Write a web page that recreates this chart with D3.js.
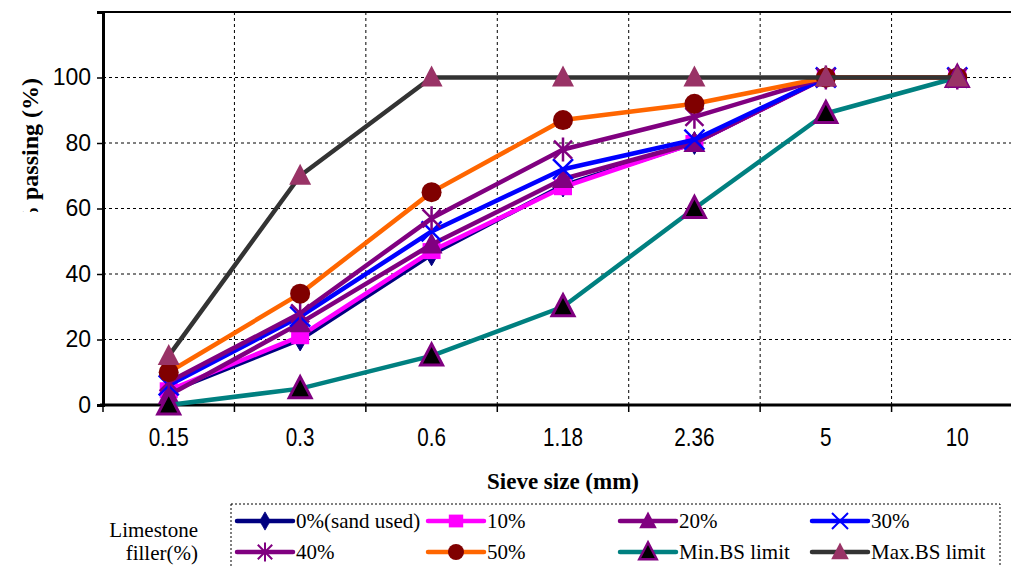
<!DOCTYPE html>
<html><head><meta charset="utf-8">
<script src="https://cdn.jsdelivr.net/npm/d3@7"></script>
<style>body{margin:0;background:#fff;}svg{display:block;}</style>
</head><body>
<svg id="c" width="1011" height="567"></svg>
<script>
const sieves = ["0.15","0.3","0.6","1.18","2.36","5","10"];
const yTicks = [0,20,40,60,80,100,120];
const s0  = [4,20,46,67,80,100,100];
const s10 = [4.5,21,47,66.5,80,100,100];
const s20 = [3,25,49,69,80,100,100];
const s30 = [6,27,53,72,81,100,100];
const s40 = [7,28,57,78,88,100,100];
const s50 = [10,34,65,87,92,100,100];
const sMin = [0,5,15,30,60,89,100];
const sMax = [15,70,100,100,100,100,100];
const seriesNames = ["0%(sand used)","10%","20%","30%","40%","50%","Min.BS limit","Max.BS limit"];

const series = [
  {name:seriesNames[0], v:s0,  line:"#000080", m:"diamond", fill:"#000080", stroke:"#000080"},
  {name:seriesNames[1], v:s10, line:"#FF00FF", m:"square",  fill:"#FF00FF", stroke:"#FF00FF"},
  {name:seriesNames[2], v:s20, line:"#800080", m:"triangle",fill:"#800080", stroke:"#800080"},
  {name:seriesNames[3], v:s30, line:"#0000FF", m:"x",       fill:"none",    stroke:"#0000FF"},
  {name:seriesNames[4], v:s40, line:"#800080", m:"star",    fill:"none",    stroke:"#800080"},
  {name:seriesNames[5], v:s50, line:"#FF6600", m:"circle",  fill:"#800000", stroke:"#800000"},
  {name:seriesNames[6], v:sMin,line:"#008080", m:"triangle",fill:"#000000", stroke:"#800080"},
  {name:seriesNames[7], v:sMax,line:"#333333", m:"triangle",fill:"#993366", stroke:"#993366"}
];

const svg = d3.select("#c");
const L = 103, R = 1023, T = 12, B = 405;
const x = d3.scaleBand().domain(sieves).range([L,R]);
const y = d3.scaleLinear().domain([0,120]).range([B,T]);
const sf = "'Liberation Sans', Arial, sans-serif";
const lf = "'Liberation Serif', 'Times New Roman', serif";

// grid
const g = svg.append("g");
g.selectAll(".hg").data(yTicks.filter(d=>d>0&&d<120)).enter().append("line")
  .attr("x1",L).attr("x2",R).attr("y1",d=>y(d)).attr("y2",d=>y(d))
  .attr("stroke","#000").attr("stroke-width",1).attr("stroke-dasharray","3,3");
g.selectAll(".vg").data(sieves.slice(1)).enter().append("line")
  .attr("x1",d=>x(d)).attr("x2",d=>x(d)).attr("y1",T).attr("y2",B)
  .attr("stroke","#000").attr("stroke-width",1).attr("stroke-dasharray","3,3");
svg.append("line").attr("x1",L).attr("x2",R).attr("y1",T).attr("y2",T).attr("stroke","#000").attr("stroke-width",2);

// y axis
const ya = svg.append("g").attr("transform",`translate(${L},0)`)
  .call(d3.axisLeft(y).tickValues(yTicks).tickSize(6).tickPadding(6).tickFormat(d=>d===120?"":d));
ya.select(".domain").attr("stroke-width",3);
ya.selectAll(".tick line").attr("stroke-width",1.5);
ya.selectAll("text").attr("font-family",sf).attr("font-size",23).attr("fill","#000");

// x axis
const xa = svg.append("g").attr("transform",`translate(0,${B})`)
  .call(d3.axisBottom(x).tickSize(0).tickPadding(0));
xa.select(".domain").remove();
xa.selectAll(".tick text").remove();
svg.append("line").attr("x1",L-3).attr("x2",R).attr("y1",B).attr("y2",B).attr("stroke","#000").attr("stroke-width",3);
svg.selectAll(".xt").data(sieves.concat(["end"])).enter().append("line")
  .attr("x1",(d,i)=>L+i*x.bandwidth()).attr("x2",(d,i)=>L+i*x.bandwidth())
  .attr("y1",B).attr("y2",B+7).attr("stroke","#000").attr("stroke-width",1.5);
svg.selectAll(".xl").data(sieves).enter().append("text")
  .attr("transform",d=>`translate(${x(d)+x.bandwidth()/2},446) scale(0.86,1.05)`)
  .attr("text-anchor","middle").attr("font-family",sf)
  .attr("font-size",24).text(d=>d);

// axis titles
svg.append("text").attr("x",563).attr("y",489).attr("text-anchor","middle")
  .attr("font-family",lf).attr("font-weight","bold")
  .attr("font-size",23).text("Sieve size (mm)");
svg.append("clipPath").attr("id","yc").append("rect").attr("x",0).attr("y",0).attr("width",100).attr("height",212);
svg.append("g").attr("clip-path","url(#yc)").append("text")
  .attr("transform","translate(38,78) rotate(-90)").attr("text-anchor","end")
  .attr("font-family",lf).attr("font-weight","bold")
  .attr("font-size",24).text("% passing (%)");

function marker(sel, type, fill, stroke){
  if(type==="diamond") sel.append("path").attr("d",d3.symbol(d3.symbolDiamond,150)()).attr("fill",fill).attr("stroke",stroke);
  else if(type==="square") sel.append("rect").attr("x",-9).attr("y",-8).attr("width",18).attr("height",16).attr("fill",fill);
  else if(type==="triangle") sel.append("path").attr("d","M0,-12L11,9L-11,9Z").attr("fill",fill).attr("stroke",stroke).attr("stroke-width",stroke===fill?0:3);
  else if(type==="circle") sel.append("circle").attr("r",10).attr("fill",fill);
  else if(type==="x") sel.append("path").attr("d","M-10,-10L10,10M-10,10L10,-10").attr("stroke",stroke).attr("stroke-width",2.5).attr("fill","none");
  else if(type==="star") sel.append("path").attr("d","M-9,-9L9,9M-9,9L9,-9M0,-12L0,12").attr("stroke",stroke).attr("stroke-width",2.5).attr("fill","none");
}

const line = d3.line().x((d,i)=>x(sieves[i])+x.bandwidth()/2).y(d=>y(d));
series.forEach(s=>{
  const sg = svg.append("g");
  sg.append("path").attr("d",line(s.v)).attr("fill","none").attr("stroke",s.line).attr("stroke-width",4.5).attr("stroke-linejoin","round");
  s.v.forEach((v,i)=>{
    const mg = sg.append("g").attr("transform",`translate(${x(sieves[i])+x.bandwidth()/2},${y(v)})`);
    marker(mg, s.m, s.fill, s.stroke);
  });
});

// legend
svg.append("rect").attr("x",231).attr("y",504).attr("width",769).attr("height",80)
  .attr("fill","none").attr("stroke","#000").attr("stroke-width",1).attr("stroke-dasharray","2,2");
const colX = [237,428,620,812], rowY = [521,552];
svg.append("text").attr("x",198).attr("y",537).attr("text-anchor","end").attr("font-family",lf).attr("font-size",21).text("Limestone");
svg.append("text").attr("x",198).attr("y",560).attr("text-anchor","end").attr("font-family",lf).attr("font-size",21).text("filler(%)");
series.forEach((s,i)=>{
  const cx = colX[i%4], cy = rowY[Math.floor(i/4)];
  const lg = svg.append("g");
  lg.append("line").attr("x1",cx).attr("x2",cx+56).attr("y1",cy).attr("y2",cy).attr("stroke",s.line).attr("stroke-width",4.5).attr("stroke-linecap","round");
  const mg = lg.append("g").attr("transform",`translate(${cx+28},${cy}) scale(0.8)`);
  marker(mg, s.m, s.fill, s.stroke);
  lg.append("text").attr("x",cx+59).attr("y",cy+7).attr("font-family",lf).attr("font-size",21).text(s.name);
});
</script>
</body></html>
